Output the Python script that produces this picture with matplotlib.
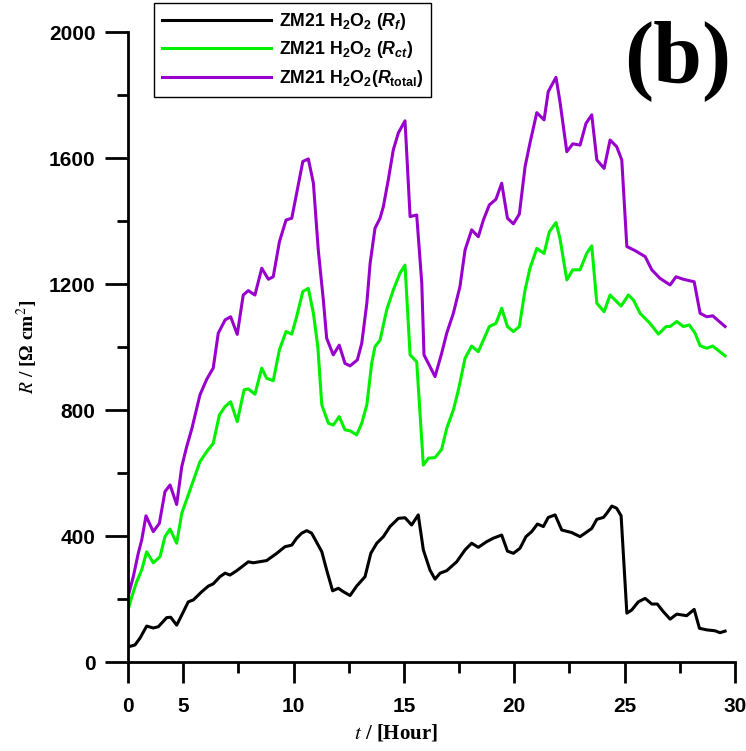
import numpy as np
import matplotlib
matplotlib.use('Agg')
import matplotlib.pyplot as plt
from matplotlib.ticker import FixedLocator

# Rf (black)
t_f = [0, 0.63, 1.09, 1.69, 2.29, 2.75, 3.51, 3.87, 4.41, 4.87, 5.23, 5.46, 5.84, 6.14, 6.36,
       6.67, 6.9, 7.12, 7.43, 7.95, 8.18, 8.78, 9.24, 9.61, 9.92, 10.14, 10.37, 10.6, 10.82,
       11.28, 11.5, 11.77, 12.03, 12.26, 12.56, 12.86, 13.24, 13.5, 13.77, 14.07, 14.37, 14.75,
       15.05, 15.35, 15.65, 15.88, 16.18, 16.41, 16.64, 16.94, 17.39, 17.77, 18.07, 18.37,
       18.75, 19.05, 19.43, 19.69, 19.96, 20.26, 20.53, 20.79, 21.05, 21.32, 21.54, 21.85,
       22.15, 22.6, 22.98, 23.25, 23.51, 23.74, 24.04, 24.19, 24.42, 24.64, 24.84, 25.1, 25.32,
       25.62, 25.93, 26.23, 26.48, 26.75, 27.06, 27.36, 27.81, 28.15, 28.39, 28.72, 29.1,
       29.32, 29.55]
r_f = [48, 54, 76, 114, 108, 112, 141, 142, 117, 149, 191, 197, 223, 241, 248,
       271, 282, 276, 290, 318, 315, 322, 345, 366, 371, 393, 409, 417, 409,
       350, 292, 226, 234, 223, 211, 241, 271, 345, 377, 398, 430, 456,
       458, 435, 467, 356, 292, 263, 282, 290, 318, 356, 377, 364,
       382, 393, 403, 352, 345, 361, 398, 414, 438, 430, 459, 467,
       419, 411, 398, 411, 424, 453, 459, 472, 495, 488, 464, 155, 165,
       191, 202, 184, 184, 160, 136, 152, 147, 167, 107, 102, 99,
       93, 98]

# Rct (green)
t_ct = [0, 0.34, 0.79, 1.24, 1.69, 2.29, 2.9, 3.35, 3.81, 4.41, 4.87, 5.31, 5.76, 6.07, 6.36,
        6.64, 6.9, 7.15, 7.45, 7.76, 7.95, 8.25, 8.56, 8.78, 9.08, 9.36, 9.66, 9.92, 10.14,
        10.42, 10.67, 10.9, 11.1, 11.28, 11.58, 11.8, 12.07, 12.33, 12.56, 12.86, 13.09,
        13.32, 13.54, 13.69, 13.92, 14.22, 14.52, 14.82, 15.05, 15.28, 15.58, 15.88, 16.11,
        16.41, 16.71, 16.94, 17.24, 17.47, 17.77, 18.07, 18.37, 18.6, 18.87, 19.17, 19.43,
        19.69, 19.96, 20.23, 20.49, 20.71, 21.02, 21.35, 21.59, 21.89, 22.07, 22.38, 22.65,
        22.98, 23.28, 23.51, 23.74, 24.07, 24.34, 24.64, 24.84, 25.17, 25.4, 25.7, 26.15,
        26.53, 26.88, 27.06, 27.36, 27.66, 27.93, 28.19, 28.42, 28.72, 28.99, 29.55]
r_ct = [165, 207, 255, 292, 350, 315, 334, 398, 422, 377, 472, 546, 636, 668, 694,
        784, 811, 826, 763, 864, 867, 850, 933, 901, 893, 991, 1049, 1041, 1096,
        1176, 1186, 1107, 1001, 816, 758, 752, 779, 737, 734, 721, 758,
        816, 948, 1001, 1022, 1118, 1181, 1234, 1260, 975, 953, 625, 647,
        649, 675, 742, 800, 864, 964, 1003, 985, 1022, 1065, 1075, 1123,
        1065, 1049, 1065, 1181, 1250, 1313, 1297, 1366, 1395, 1345, 1213, 1245,
        1245, 1297, 1321, 1139, 1112, 1165, 1144, 1130, 1165, 1149, 1107, 1075,
        1041, 1065, 1065, 1081, 1065, 1070, 1044, 1004, 996, 1003, 972]

# Rtotal (purple)
t_tot = [0, 0.48, 0.93, 1.24, 1.63, 2.29, 2.84, 3.35, 3.81, 4.41, 4.87, 5.16, 5.39, 5.76,
         6.07, 6.36, 6.59, 6.9, 7.15, 7.45, 7.72, 7.95, 8.25, 8.56, 8.86, 9.08, 9.36, 9.66,
         9.92, 10.14, 10.42, 10.67, 10.9, 11.12, 11.35, 11.5, 11.8, 12.07, 12.33, 12.56,
         12.89, 13.09, 13.32, 13.47, 13.69, 13.92, 14.07, 14.29, 14.52, 14.75, 15.05, 15.28,
         15.58, 15.81, 15.91, 16.18, 16.41, 16.71, 16.94, 17.24, 17.54, 17.77, 18.07, 18.37,
         18.6, 18.87, 19.17, 19.43, 19.69, 19.96, 20.23, 20.49, 20.71, 21.02, 21.35, 21.54,
         21.89, 22.07, 22.38, 22.65, 22.98, 23.25, 23.51, 23.74, 24.07, 24.34, 24.64, 24.87,
         25.1, 25.47, 25.93, 26.23, 26.6, 27.06, 27.33, 27.66, 28.15, 28.42, 28.72, 28.99,
         29.55]
r_tot = [207, 271, 345, 387, 464, 414, 440, 541, 562, 500, 620, 684, 740, 848,
         898, 933, 1044, 1086, 1096, 1040, 1165, 1179, 1165, 1250, 1215, 1223, 1334, 1403,
         1409, 1488, 1589, 1597, 1520, 1308, 1149, 1028, 975, 1006, 948, 940,
         959, 1012, 1139, 1266, 1377, 1409, 1446, 1530, 1626, 1680, 1718, 1414,
         1419, 1202, 975, 938, 906, 980, 1044, 1107, 1192, 1308, 1372, 1350,
         1403, 1451, 1469, 1520, 1409, 1391, 1422, 1573, 1647, 1744, 1721, 1811,
         1856, 1779, 1620, 1645, 1641, 1710, 1737, 1594, 1567, 1657, 1636, 1594,
         1319, 1306, 1287, 1245, 1218, 1197, 1223, 1215, 1207, 1107, 1096, 1099,
         1065]

x_major = [0, 5, 10, 15, 20, 25, 30]
x_minor = [7.5, 12.5, 17.5, 22.5, 27.5]
y_major = [0, 400, 800, 1200, 1600, 2000]
y_minor = [200, 600, 1000, 1400, 1800]


# the 0-5 h stretch of the time axis is drawn at half scale
def fwd(t):
    t = np.asarray(t, dtype=float)
    return np.where(t < 5, 2.5 + 0.5 * t, t)


def inv(u):
    u = np.asarray(u, dtype=float)
    return np.where(u < 5, (u - 2.5) * 2, u)


plt.rcParams['mathtext.fontset'] = 'custom'
plt.rcParams['mathtext.rm'] = 'Liberation Sans:bold'
plt.rcParams['mathtext.bf'] = 'Liberation Sans:bold'
plt.rcParams['mathtext.it'] = 'Liberation Sans:bold:italic'

fig = plt.figure(figsize=(7.46, 7.51), dpi=100)
ax = fig.add_axes([128 / 746, 1 - 662 / 751, 607 / 746, 630 / 751])

ax.plot(t_f, r_f, color='black', lw=2.2, label=r'ZM21 H$_2$O$_2$ ($R_{f}$)')
ax.plot(t_ct, r_ct, color='#00f000', lw=2.2, label=r'ZM21 H$_2$O$_2$ ($R_{ct}$)')
ax.plot(t_tot, r_tot, color='#9900cc', lw=2.2, label=r'ZM21 H$_2$O$_2$($R_{\mathrm{total}}$)')

ax.set_xscale('function', functions=(fwd, inv))
ax.set_xlim(0, 30)
ax.set_ylim(0, 2000)
ax.xaxis.set_major_locator(FixedLocator(x_major))
ax.xaxis.set_minor_locator(FixedLocator(x_minor))
ax.yaxis.set_major_locator(FixedLocator(y_major))
ax.yaxis.set_minor_locator(FixedLocator(y_minor))
ax.set_xticklabels([str(v) for v in x_major])
ax.set_yticklabels([str(v) for v in y_major])

for s in ['top', 'right']:
    ax.spines[s].set_visible(False)
for s in ['left', 'bottom']:
    ax.spines[s].set_linewidth(2)

ax.tick_params(axis='x', which='major', length=15, width=2, pad=10)
ax.tick_params(axis='x', which='minor', length=8, width=2)
ax.tick_params(axis='y', which='major', length=16.5, width=2, pad=7)
ax.tick_params(axis='y', which='minor', length=8, width=2)
for lab in ax.get_xticklabels() + ax.get_yticklabels():
    lab.set_fontfamily('Liberation Sans')
    lab.set_fontweight('bold')
    lab.set_fontsize(15)

fig.text(396 / 746, 1 - 733 / 751, r'$t$ / [Hour]', ha='center', va='center',
         fontsize=15, fontweight='bold', family='Liberation Serif', math_fontfamily='stix')
fig.text(27 / 746, 1 - 347 / 751, r'$R$ / [Ω cm$^2$]', ha='center', va='center',
         rotation=90, fontsize=14, fontweight='bold', family='Liberation Serif',
         math_fontfamily='stix')
fig.text(678 / 746, 1 - 61 / 751, '(b)', ha='center', va='center',
         fontsize=63, fontweight='bold', family='Liberation Serif')

leg = ax.legend(loc='upper left', bbox_to_anchor=(0.043, 1.046), borderaxespad=0,
                frameon=True, fancybox=False, edgecolor='black', framealpha=1,
                prop={'family': 'Liberation Sans', 'weight': 'bold', 'size': 12.8},
                handlelength=6.1, handletextpad=0.45, labelspacing=0.42, borderpad=0.45)
leg.get_frame().set_linewidth(1)

fig.savefig('out.png', dpi=100)
